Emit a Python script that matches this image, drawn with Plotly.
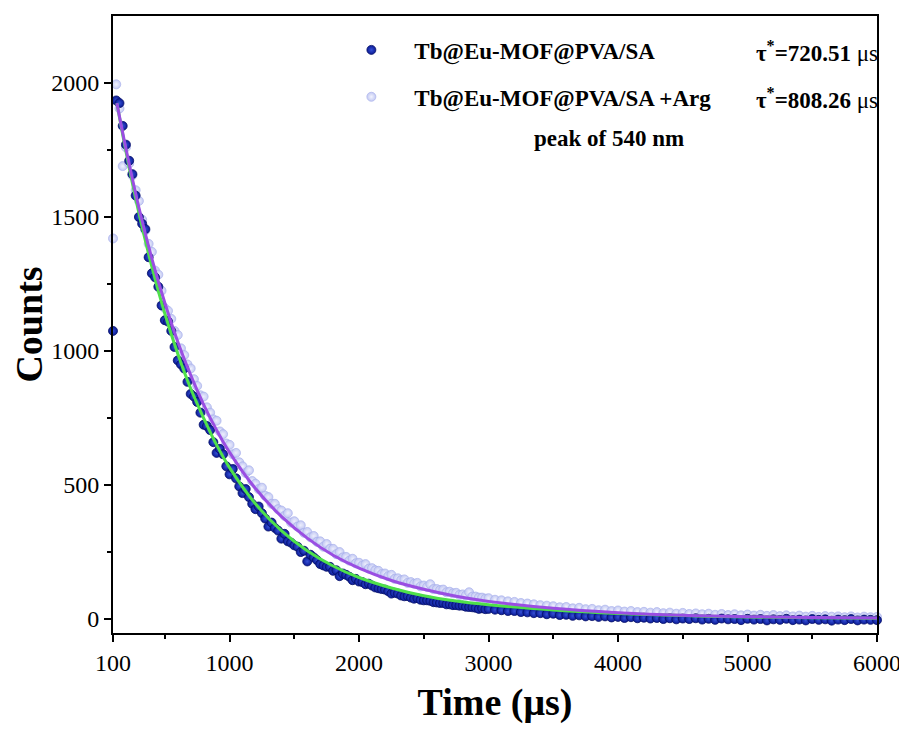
import plotly.graph_objects as go

# ── Data ──────────────────────────────────────────────────────────────────────

TIME = [100, 125, 150, 175, 200, 225, 250, 275, 300, 325,
        350, 375, 400, 425, 450, 475, 500, 525, 550, 575,
        600, 625, 650, 675, 700, 725, 750, 775, 800, 825,
        850, 875, 900, 925, 950, 975, 1000, 1025, 1050, 1075,
        1100, 1125, 1150, 1175, 1200, 1225, 1250, 1275, 1300, 1325,
        1350, 1375, 1400, 1425, 1450, 1475, 1500, 1525, 1550, 1575,
        1600, 1625, 1650, 1675, 1700, 1725, 1750, 1775, 1800, 1825,
        1850, 1875, 1900, 1925, 1950, 1975, 2000, 2025, 2050, 2075,
        2100, 2125, 2150, 2175, 2200, 2225, 2250, 2275, 2300, 2325,
        2350, 2375, 2400, 2425, 2450, 2475, 2500, 2525, 2550, 2575,
        2600, 2625, 2650, 2675, 2700, 2725, 2750, 2775, 2800, 2825,
        2850, 2875, 2900, 2925, 2950, 2975, 3000,
        3050, 3100, 3150, 3200, 3250, 3300, 3350, 3400, 3450, 3500,
        3550, 3600, 3650, 3700, 3750, 3800, 3850, 3900, 3950, 4000,
        4050, 4100, 4150, 4200, 4250, 4300, 4350, 4400, 4450, 4500,
        4550, 4600, 4650, 4700, 4750, 4800, 4850, 4900, 4950, 5000,
        5050, 5100, 5150, 5200, 5250, 5300, 5350, 5400, 5450, 5500,
        5550, 5600, 5650, 5700, 5750, 5800, 5850, 5900, 5950, 6000]

COUNTS_MOF = [1075, 1935, 1925, 1840, 1770, 1710, 1660, 1580, 1500, 1475,
              1455, 1350, 1290, 1275, 1240, 1170, 1115, 1110, 1075, 1015,
              965, 950, 935, 885, 840, 830, 810, 770, 725, 720,
              705, 660, 620, 635, 615, 570, 540, 560, 525, 495,
              470, 485, 455, 430, 410, 420, 395, 375, 345, 360,
              340, 330, 300, 318, 290, 285, 275, 270, 250, 255,
              215, 240, 230, 220, 205, 200, 195, 195, 180, 182,
              160, 170, 165, 158, 145, 150, 140, 138, 130, 132,
              125, 118, 115, 112, 110, 104, 95, 98, 95, 88,
              85, 86, 80, 76, 78, 72, 70, 70, 68, 63,
              62, 60, 60, 55, 55, 52, 52, 50, 50, 46,
              45, 44, 42, 38, 40, 37, 38,
              35, 33, 30, 30, 26, 25, 22, 22, 18, 20,
              15, 16, 12, 14, 10, 11, 8, 10, 6, 8,
              4, 7, 3, 5, 2, 4, 0, 3, -1, 2,
              0, 3, -2, 1, -3, 2, -1, 0, -4, 1,
              -2, 0, -5, -1, -3, 1, -4, -2, -5, 0,
              -3, -1, -6, -2, -4, 0, -5, -2, -3, -4]

COUNTS_ARG = [1420, 1995, 1905, 1690, 1760, 1700, 1655, 1600, 1560, 1490,
              1450, 1400, 1370, 1300, 1285, 1225, 1160, 1150, 1120, 1075,
              1060, 1010, 985, 950, 935, 895, 870, 835, 830, 790,
              770, 745, 740, 700, 690, 655, 650, 615, 620, 585,
              570, 545, 555, 515, 505, 485, 490, 460, 455, 430,
              430, 410, 405, 385, 395, 360, 365, 345, 350, 322,
              325, 305, 310, 288, 290, 270, 280, 262, 262, 242,
              250, 230, 232, 218, 225, 208, 210, 200, 205, 188,
              190, 182, 180, 168, 170, 160, 165, 150, 152, 145,
              148, 135, 138, 132, 135, 122, 125, 120, 130, 112,
              112, 108, 110, 100, 102, 96, 98, 90, 92, 88,
              100, 84, 84, 80, 80, 76, 78,
              72, 70, 66, 64, 60, 58, 55, 52, 50, 48,
              44, 45, 40, 42, 37, 38, 33, 35, 30, 32,
              28, 30, 26, 27, 24, 26, 22, 24, 20, 23,
              19, 21, 18, 20, 16, 19, 15, 18, 14, 17,
              13, 16, 12, 15, 11, 14, 10, 13, 9, 12,
              8, 11, 9, 10, 7, 10, 6, 9, 7, 8]

FIT_TIME = [130, 200, 300, 400, 500, 600, 700, 800, 900, 1000, 1200, 1400, 1600,
            1800, 2000, 2250, 2500, 2750, 3000, 3500, 4000, 4500, 5000, 5500, 6000]
FIT_MOF = [1925, 1745, 1515, 1315, 1140, 990, 860, 750, 650, 565, 430, 330, 255,
           198, 155, 116, 87, 67, 53, 34, 21, 13, 8, 5, 3]
FIT_ARG = [1925, 1755, 1535, 1345, 1180, 1035, 910, 800, 705, 622, 487, 383, 302,
           238, 190, 144, 111, 85, 66, 40, 24, 14, 9, 6, 4]

NAME_MOF = "Tb@Eu-MOF@PVA/SA"
NAME_ARG = "Tb@Eu-MOF@PVA/SA +Arg"
TAU_MOF = "720.51"
TAU_ARG = "808.26"
PEAK_NOTE = "peak of 540 nm"

X_TICKS = [100, 1000, 2000, 3000, 4000, 5000, 6000]
X_MINOR = [500, 1500, 2500, 3500, 4500, 5500]
Y_TICKS = [0, 500, 1000, 1500, 2000]
Y_MINOR = [250, 750, 1250, 1750]

assert len(TIME) == len(COUNTS_MOF) == len(COUNTS_ARG), (len(TIME), len(COUNTS_MOF), len(COUNTS_ARG))
assert len(FIT_TIME) == len(FIT_MOF) == len(FIT_ARG)

SERIF = "Liberation Serif, Times New Roman, serif"
NB = "\u00a0"

fig = go.Figure()

fig.add_trace(go.Scatter(
    x=TIME, y=COUNTS_ARG, mode="markers", name=NB * 4 + NAME_ARG,
    legend="legend2", cliponaxis=False,
    marker=dict(size=9, color="#bcc3f2", opacity=0.9,
                gradient=dict(type="radial", color="#f2f3fe"),
                line=dict(color="#a9b1ec", width=0.8)),
))
fig.add_trace(go.Scatter(
    x=TIME, y=COUNTS_MOF, mode="markers", name=NB * 4 + NAME_MOF,
    legend="legend", cliponaxis=False,
    marker=dict(size=9, color="#0a1a94",
                gradient=dict(type="radial", color="#3550d6"),
                line=dict(color="#06106a", width=0.8)),
))
fig.add_trace(go.Scatter(
    x=FIT_TIME, y=FIT_MOF, mode="lines", line_shape="spline", showlegend=False,
    line=dict(color="#4fe04a", width=3),
))
fig.add_trace(go.Scatter(
    x=FIT_TIME, y=FIT_ARG, mode="lines", line_shape="spline", showlegend=False,
    line=dict(color="#9a4ee2", width=3),
))

legend_font = dict(family=SERIF, size=23, color="black", weight="bold")
note_font = dict(family=SERIF, size=23, color="black")

fig.add_annotation(x=1.004, y=0.942, xref="paper", yref="paper",
                   xanchor="right", yanchor="middle", showarrow=False,
                   text=f"<b>τ<sup>*</sup>={TAU_MOF}</b> μs", font=note_font)
fig.add_annotation(x=1.004, y=0.866, xref="paper", yref="paper",
                   xanchor="right", yanchor="middle", showarrow=False,
                   text=f"<b>τ<sup>*</sup>={TAU_ARG}</b> μs", font=note_font)
fig.add_annotation(x=0.649, y=0.801, xref="paper", yref="paper",
                   xanchor="center", yanchor="middle", showarrow=False,
                   text=f"<b>{PEAK_NOTE}</b>", font=note_font)

axis_common = dict(
    showline=True, linewidth=2, linecolor="black", mirror=True,
    showgrid=False, zeroline=False,
    ticks="outside", ticklen=7, tickwidth=2, tickcolor="black",
    tickfont=dict(family=SERIF, size=24, color="black"),
)

fig.update_xaxes(
    range=[100, 6000], tickvals=X_TICKS,
    minor=dict(tickvals=X_MINOR, ticks="outside", ticklen=4, tickwidth=2,
               tickcolor="black"),
    title=dict(text="<b>Time (μs)</b>", standoff=14,
               font=dict(family=SERIF, size=38, color="black")),
    **axis_common,
)
fig.update_yaxes(
    range=[-52, 2250], tickvals=Y_TICKS,
    minor=dict(tickvals=Y_MINOR, ticks="outside", ticklen=4,
               tickwidth=2, tickcolor="black"),
    title=dict(text="<b>Counts</b>", standoff=4,
               font=dict(family=SERIF, size=38, color="black")),
    **axis_common,
)

# page body adds an 8px margin, so the figure is sized to the window minus that
fig.update_layout(
    width=899, height=721,
    margin=dict(l=105, r=28, t=6, b=96),
    paper_bgcolor="white", plot_bgcolor="white",
    legend=dict(x=0.312, y=0.945, xanchor="left", yanchor="middle",
                bgcolor="rgba(0,0,0,0)", font=legend_font),
    legend2=dict(x=0.312, y=0.869, xanchor="left", yanchor="middle",
                 bgcolor="rgba(0,0,0,0)", font=legend_font),
)

fig.write_html("out.html")
